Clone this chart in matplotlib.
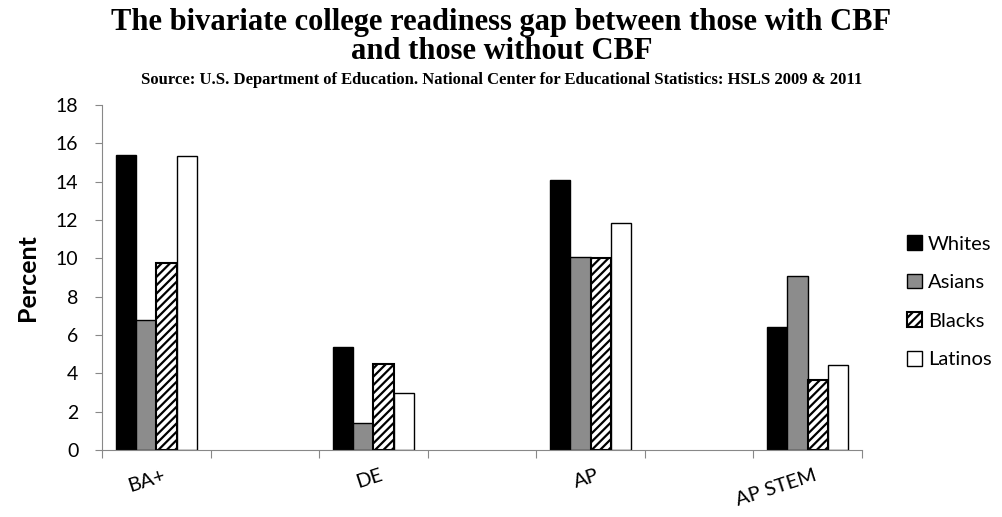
import numpy as np
import matplotlib.pyplot as plt
from matplotlib.transforms import ScaledTranslation

# categories with blank spacer slots, as in the original Excel chart
categories = ["BA+", "", "DE", "", "AP", "", "AP STEM"]
groups = ["Whites", "Asians", "Blacks", "Latinos"]

whites = [15.4, 0, 5.35, 0, 14.1, 0, 6.4]
asians = [6.8, 0, 1.4, 0, 10.05, 0, 9.1]
blacks = [9.75, 0, 4.5, 0, 10.0, 0, 3.65]
latinos = [15.35, 0, 2.95, 0, 11.85, 0, 4.45]

series = [whites, asians, blacks, latinos]
styles = [
    dict(facecolor="black", edgecolor="black", hatch=None, linewidth=1.0),
    dict(facecolor="#8c8c8c", edgecolor="black", hatch=None, linewidth=1.0),
    dict(facecolor="white", edgecolor="black", hatch="////", linewidth=1.5),
    dict(facecolor="white", edgecolor="black", hatch=None, linewidth=1.0),
]

plt.rcParams["hatch.linewidth"] = 1.6
plt.rcParams["font.family"] = ["Lato", "DejaVu Sans"]

fig = plt.figure(figsize=(10.03, 5.17), dpi=100)
ax = fig.add_axes([0.1017, 0.1296, 0.7577, 0.6673])

x = np.arange(len(categories))
w = 0.187
keep = [k for k, c in enumerate(categories) if c]
for i, (vals, st) in enumerate(zip(series, styles)):
    pos = x + (i - 1.5) * w
    ax.bar(pos[keep], np.array(vals)[keep], width=w, label=groups[i], **st)

ax.set_xlim(-0.5, len(categories) - 0.5)
ax.set_ylim(0, 18)
ax.set_yticks(np.arange(0, 19, 2))
ax.tick_params(axis="y", labelsize=14, length=5, color="#888888", pad=12)

# tick marks at the slot boundaries, labels under the real categories
ax.set_xticks(np.arange(-0.5, len(categories), 1))
ax.set_xticklabels([])
ax.tick_params(axis="x", which="major", length=6, color="#888888")
ax.set_xticks(keep, minor=True)
ax.set_xticklabels([categories[k] for k in keep], minor=True, rotation=18,
                   ha="right", va="top", rotation_mode="anchor", fontsize=14.5)
ax.tick_params(axis="x", which="minor", length=0, pad=12)
off = ScaledTranslation(6 / 100, 0, fig.dpi_scale_trans)
for t in ax.get_xticklabels(minor=True):
    t.set_transform(t.get_transform() + off)

for s in ["top", "right"]:
    ax.spines[s].set_visible(False)
for s in ["left", "bottom"]:
    ax.spines[s].set_color("#888888")

ax.set_ylabel("Percent", fontsize=18, fontweight="bold", labelpad=12)

leg = ax.legend(loc="center left", bbox_to_anchor=(1.035, 0.43), frameon=False,
                fontsize=14.5, handlelength=0.75, handleheight=0.75,
                handletextpad=0.3, labelspacing=1.05)

fig.text(0.5, 0.956, "The bivariate college readiness gap between those with CBF",
         ha="center", va="center", fontsize=22, fontweight="bold",
         family="Liberation Serif")
fig.text(0.5, 0.901, "and those without CBF", ha="center", va="center",
         fontsize=22, fontweight="bold", family="Liberation Serif")
fig.text(0.5, 0.846, "Source: U.S. Department of Education. National Center for "
         "Educational Statistics: HSLS 2009 & 2011",
         ha="center", va="center", fontsize=12, fontweight="bold",
         family="Liberation Serif")

fig.savefig("out.png", dpi=100)
